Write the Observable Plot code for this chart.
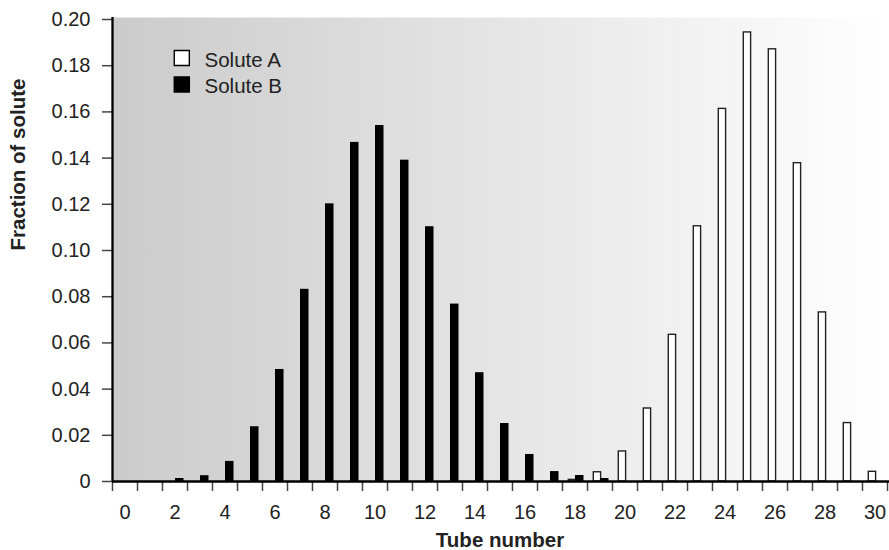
<!DOCTYPE html>
<html>
<head>
<meta charset="utf-8">
<script src="https://cdn.jsdelivr.net/npm/d3@7"></script>
<script src="https://cdn.jsdelivr.net/npm/@observablehq/plot@0.6"></script>
<style>
  html, body { margin: 0; padding: 0; background: white; }
</style>
</head>
<body>
<div id="chart"></div>
<script>
const tubes = d3.range(0, 31);
const soluteA = [0, 0, 0, 0, 0, 0, 0, 0, 0, 0, 0, 0, 0, 0, 0, 0, 0, 0, 0.0007, 0.0040, 0.0130, 0.0316, 0.0635, 0.1105, 0.1613, 0.1944, 0.1871, 0.1378, 0.0732, 0.0253, 0.0042];
const soluteB = [0, 0, 0.0013, 0.0025, 0.0087, 0.0237, 0.0485, 0.0832, 0.1202, 0.1468, 0.1541, 0.1391, 0.1103, 0.0768, 0.0471, 0.0251, 0.0117, 0.0043, 0.0026, 0.0013, 0, 0, 0, 0, 0, 0, 0, 0, 0, 0, 0];
const yTicks = [0, 0.02, 0.04, 0.06, 0.08, 0.10, 0.12, 0.14, 0.16, 0.18, 0.20];
const xLabelTicks = [0, 2, 4, 6, 8, 10, 12, 14, 16, 18, 20, 22, 24, 26, 28, 30];
const seriesNames = ["Solute A", "Solute B"];
const seriesFills = ["white", "black"];
const xTitle = "Tube number";
const yTitle = "Fraction of solute";

const rowsA = tubes.map((t, i) => ({tube: t, v: soluteA[i]})).filter(d => d.v > 0);
const rowsB = tubes.map((t, i) => ({tube: t, v: soluteB[i]})).filter(d => d.v > 0);
const boundaries = tubes.map(t => t - 0.5).concat([tubes[tubes.length - 1] + 0.5]);

const gradientDefs = () => {
  const defs = d3.create("svg:defs");
  const g = defs.append("linearGradient").attr("id", "bggrad")
    .attr("x1", "0").attr("x2", "1").attr("y1", "0").attr("y2", "0");
  g.append("stop").attr("offset", "0%").attr("stop-color", "#cbcbcb");
  g.append("stop").attr("offset", "100%").attr("stop-color", "#ffffff");
  return defs.node();
};

const legendMarks = seriesNames.flatMap((name, i) => [
  Plot.dot([name], {frameAnchor: "top-left", dx: 69.3, dy: 38.5 + i * 26.5, symbol: "square", r: 8.5,
    fill: seriesFills[i], stroke: "black", strokeWidth: 1.4}),
  Plot.text([name], {frameAnchor: "top-left", dx: 92, dy: 47.7 + i * 25.5, text: d => d,
    textAnchor: "start", lineAnchor: "bottom", fontSize: 20.5, fill: "#222", style: "letter-spacing:0.3px"})
]);

const chart = Plot.plot({
  width: 889,
  height: 550,
  marginTop: 19,
  marginBottom: 69,
  marginLeft: 112,
  marginRight: 2,
  x: {domain: [-0.5, 30.5]},
  y: {domain: [0, 0.2]},
  style: {fontFamily: "'Liberation Sans', Arial, Helvetica, sans-serif", fontSize: "20px", color: "#222", background: "white"},
  marks: [
    gradientDefs,
    Plot.frame({fill: "url(#bggrad)", stroke: "none", insetTop: -2}),
    Plot.rectY(rowsA, {x1: d => d.tube - 0.5, x2: d => d.tube + 0.5, y1: 0, y2: "v",
      insetLeft: 6.3, insetRight: 11.4, fill: "white", stroke: "#222", strokeWidth: 1.4}),
    Plot.rectY(rowsB, {x1: d => d.tube - 0.5, x2: d => d.tube + 0.5, y1: 0, y2: "v",
      insetLeft: 13, insetRight: 3.5, fill: "black"}),
    Plot.axisY({ticks: yTicks, tickSize: 10, tickPadding: 12, stroke: "#444", strokeWidth: 1.5,
      tickFormat: d => d === 0 ? "0" : d.toFixed(2), label: null}),
    Plot.axisX({ticks: boundaries, tickSize: 10, tickFormat: () => "", stroke: "#444", strokeWidth: 1.5, label: null}),
    Plot.axisX({ticks: xLabelTicks, tickSize: 0, tickPadding: 23, label: null}),
    Plot.ruleY([0], {stroke: "black", strokeWidth: 2.3, insetRight: -2}),
    Plot.ruleX([-0.5], {stroke: "black", strokeWidth: 2.3, insetTop: -2}),
    ...legendMarks,
    Plot.text([xTitle], {frameAnchor: "bottom", dy: 65.7, text: d => d, lineAnchor: "bottom",
      fontWeight: "bold", fontSize: 20.5, fill: "#222"}),
    Plot.text([yTitle], {frameAnchor: "left", dx: -94.5, text: d => d, rotate: -90,
      fontWeight: "bold", fontSize: 20.5, fill: "#222"})
  ]
});
document.getElementById("chart").appendChild(chart);
</script>
</body>
</html>
